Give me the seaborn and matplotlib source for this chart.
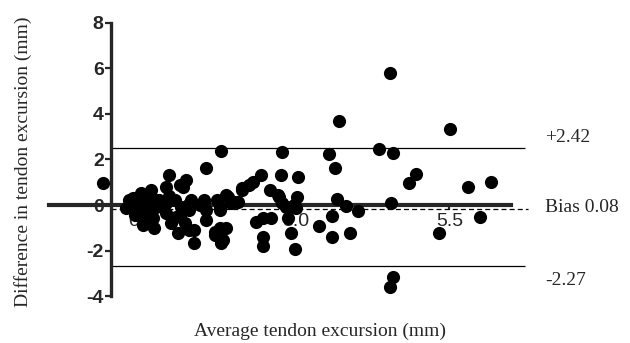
import matplotlib
matplotlib.use("Agg")
import matplotlib.pyplot as plt
import seaborn as sns
import pandas as pd

# Bland-Altman data (mm)
avg_excursion = [
    -0.13,
    0.25, 0.30, 0.36, 0.31, 0.41, 0.47, 0.47, 0.52, 0.49, 0.52, 0.63, 0.66,
    0.68, 0.71, 0.66, 0.74, 0.74, 0.79, 0.58, 0.60, 0.40, 0.55,
    0.90, 0.95, 0.90, 0.90, 0.98, 0.95, 1.06, 1.09, 1.12, 1.12, 1.17, 1.23,
    1.25, 1.28, 1.28, 1.20, 1.31, 1.36, 1.36, 1.05, 1.15,
    1.52, 1.52, 1.55, 1.55, 1.55, 1.45, 1.69, 1.69, 1.72, 1.77, 1.77, 1.77,
    1.79, 1.82, 1.79, 1.87, 1.87, 1.90, 1.95,
    2.01, 2.06, 2.14, 2.14, 2.25, 2.31, 2.44, 2.36, 2.47, 2.61, 2.47, 2.47,
    2.58, 2.71, 2.77, 2.79, 2.74, 2.79,
    2.85, 2.93, 2.88, 2.93, 3.00, 3.01, 3.04, 3.03, 2.98,
    3.39, 3.54, 3.60, 3.60, 3.65, 3.67, 3.70, 3.82, 3.89, 4.01,
    4.36, 4.53, 4.55, 4.59, 4.59, 4.54, 4.84, 4.96, 5.33, 5.51, 5.80, 5.99, 6.18,
]
diff_excursion = [
    0.95,
    -0.15, 0.20, 0.29, -0.07, -0.22, 0.00, -0.44, 0.37, 0.51, -0.88, 0.22, 0.66,
    -0.58, -1.02, -0.66, -0.07, 0.22, 0.22, 0.05, -0.30, -0.45, -0.15,
    0.80, 1.32, 0.07, -0.37, -0.80, 0.40, -0.51, -1.24, 0.88, -0.44, 0.80, 1.10,
    0.00, -0.22, -1.10, -0.80, 0.22, -1.68, -1.10, 0.20, -0.10,
    0.22, 0.14, 1.61, -0.22, -0.66, 0.00, -1.17, -1.32, 0.22, -0.07, -0.22, -1.02,
    2.38, -1.54, -1.68, 0.44, -1.02, 0.37, 0.10,
    0.14, 0.14, 0.66, 0.73, 0.88, 1.02, 1.32, -0.73, -0.58, -0.58, -1.39, -1.80,
    0.66, 0.44, 1.32, 2.34, 0.37, 0.07,
    -0.07, -0.07, -0.58, -1.21, -1.94, -0.15, 1.24, 0.37, 0.00,
    -0.92, 2.24, -0.47, -1.39, 1.61, 0.26, 3.70, -0.03, -1.24, -0.26,
    2.46, 5.80, 0.07, 2.29, -3.14, -3.61, 0.98, 1.36, -1.21, 3.32, 0.80, -0.51, 1.02,
]

# reference lines as drawn, and their labels
upper_loa = 2.5
bias_line = -0.18
lower_loa = -2.66
line_labels = ["+2.42", "Bias 0.08", "-2.27"]

x_ticks = [0.5, 3.0, 5.5]
x_tick_labels = ["0.5", "3.0", "5.5"]
y_ticks = [-4, -2, 0, 2, 4, 6, 8]

sns.set_style("ticks")
plt.rcParams["font.family"] = ["Liberation Sans", "DejaVu Sans"]

df = pd.DataFrame({"avg": avg_excursion, "diff": diff_excursion})

fig = plt.figure(figsize=(6.3, 3.43), dpi=100)
ax = fig.add_axes([0.0778, 0.1032, 0.7627, 0.8641])

sns.scatterplot(data=df, x="avg", y="diff", ax=ax, color="black", s=90,
                linewidth=0, zorder=3, legend=False)

# limits of agreement and bias
ax.hlines([upper_loa, lower_loa], 0, 6.73, color="black", linewidth=0.9, zorder=2,
          clip_on=False)
ax.hlines(bias_line, 0, 6.78, color="black", linewidth=0.9, linestyle=(0, (4, 2.5)),
          zorder=2, clip_on=False)

ax.set_xlim(-1.0, 6.8)
ax.set_ylim(-4.5, 8.5)

# Prism-like axes: x axis through zero, y axis at x = 0
for side in ["top", "right"]:
    ax.spines[side].set_visible(False)
ax.spines["left"].set_position(("data", 0))
ax.spines["left"].set_bounds(-4, 8)
ax.spines["left"].set_linewidth(2.4)
ax.spines["bottom"].set_position(("data", 0))
ax.spines["bottom"].set_bounds(-1.0, 6.5)
ax.spines["bottom"].set_linewidth(3.0)

ax.set_yticks(y_ticks)
ax.set_yticklabels([str(t) for t in y_ticks], fontsize=14, fontweight="bold")
ax.tick_params(axis="y", direction="out", length=4, width=1.6, pad=1)
ax.set_xticks(x_ticks)
ax.set_xticklabels(x_tick_labels, fontsize=14)
ax.tick_params(axis="x", direction="out", length=3.5, width=1.6, pad=2)

ax.set_xlabel("")
ax.set_ylabel("")

serif = ["Liberation Serif", "DejaVu Serif"]
fig.text(320 / 630, 1 - 331 / 343, "Average tendon excursion (mm)", family=serif,
         fontsize=14, ha="center", va="center")
fig.text(23 / 630, 1 - 162 / 343, "Difference in tendon excursion (mm)", family=serif,
         fontsize=14, ha="center", va="center", rotation=90)

label_y = [2.98, -0.13, -3.29]
for txt, yy in zip(line_labels, label_y):
    ax.text(7.05, yy, txt, family=serif, fontsize=14, ha="left", va="center",
            clip_on=False)

fig.savefig("out.png", dpi=100)
